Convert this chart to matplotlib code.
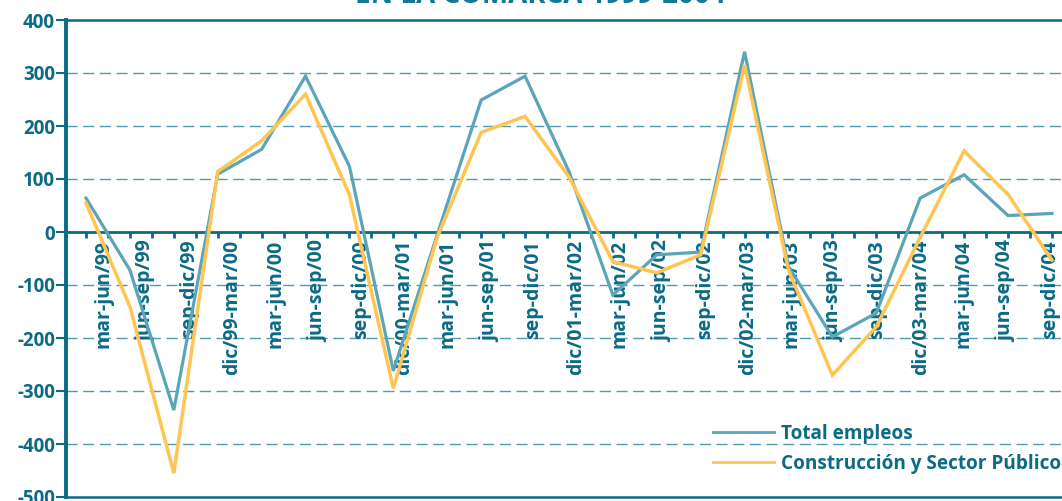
import matplotlib
matplotlib.use("Agg")
import matplotlib.pyplot as plt
from matplotlib.transforms import offset_copy
import numpy as np

periods = ["mar-jun/99", "jun-sep/99", "sep-dic/99", "dic/99-mar/00", "mar-jun/00",
           "jun-sep/00", "sep-dic/00", "dic/00-mar/01", "mar-jun/01", "jun-sep/01",
           "sep-dic/01", "dic/01-mar/02", "mar-jun/02", "jun-sep/02", "sep-dic/02",
           "dic/02-mar/03", "mar-jun/03", "jun-sep/03", "sep-dic/03", "dic/03-mar/04",
           "mar-jun/04", "jun-sep/04", "sep-dic/04"]
total_empleos = [64, -72, -336, 109, 156, 294, 124, -262, -5, 249, 294, 114, -119,
                 -43, -38, 340, -65, -198, -153, 64, 108, 31, 35]
construccion_sp = [55, -141, -455, 114, 172, 260, 70, -295, -10, 188, 218, 104, -56,
                   -77, -43, 315, -72, -270, -179, -10, 153, 71, -53]
yticks = [400, 300, 200, 100, 0, -100, -200, -300, -400, -500]
title = "EN LA COMARCA 1999-2004"

TEXT = "#0B6A86"
TEAL = "#5BA5B8"
YELLOW = "#FFC552"
GRID = "#4F9BB2"
FONT = "Open Sans"

W, H = 1062, 501
fig = plt.figure(figsize=(W / 100, H / 100), dpi=100)
ax = fig.add_axes([66 / W, 4 / H, (W - 66) / W, 477 / H])

x = np.arange(len(periods))
ax.plot(x, total_empleos, color=TEAL, lw=2.3, label="Total empleos", solid_joinstyle="miter", zorder=3)
ax.plot(x, construccion_sp, color=YELLOW, lw=2.5, label="Construcción y Sector Público",
        solid_joinstyle="miter", zorder=4)

ax.set_ylim(-500, 400)
ax.set_xlim(-0.456, 22.23)

for v in yticks:
    if v not in (400, 0, -500):
        ax.axhline(v, color=GRID, lw=1.0, ls=(0, (8, 4)), zorder=1)
ax.axhline(400, color=TEXT, lw=1.8, zorder=2, clip_on=False)
ax.axhline(-500, color=TEXT, lw=1.8, zorder=2, clip_on=False)

for s in ["top", "right"]:
    ax.spines[s].set_visible(False)
ax.spines["left"].set_color(TEXT)
ax.spines["left"].set_linewidth(2.8)
ax.spines["bottom"].set_position(("data", 0))
ax.spines["bottom"].set_color(TEXT)
ax.spines["bottom"].set_linewidth(2.0)
ax.spines["bottom"].set_zorder(2)

ax.set_yticks(yticks)
ax.set_yticklabels([str(v) for v in yticks], fontsize=13.5, fontweight="bold",
                   color=TEXT, family=FONT)
ax.tick_params(axis="y", direction="out", length=7, width=1.5, color=TEXT, pad=1)

ax.set_xticks(x)
ax.set_xticks(x[:-1] + 0.5, minor=True)
ax.set_xticklabels([])
ax.tick_params(axis="x", which="both", direction="out", length=4, width=2, color=TEXT)

trans = offset_copy(ax.transData, fig=fig, x=0, y=-8, units="dots")
for i, lab in enumerate(periods):
    ax.text(0.39 + i * 0.98, 0, lab, transform=trans, rotation=90, ha="center", va="top",
            fontsize=14, fontweight="bold", color=TEXT, family=FONT, zorder=2)

leg = ax.legend(loc="upper left", bbox_to_anchor=(713 / W, 1 - 424 / H),
                bbox_transform=fig.transFigure, frameon=False, borderpad=0,
                borderaxespad=0, handlelength=3.2, handletextpad=0.35, labelspacing=0.52,
                prop={"family": FONT, "weight": "bold", "size": 13.7})
for t in leg.get_texts():
    t.set_color(TEXT)
for l in leg.get_lines():
    l.set_linewidth(2.0)

fig.text(540 / W, 1 - 3 / H, title, ha="center", va="baseline", fontsize=20,
         fontweight="bold", color="#137895", family=FONT)

fig.savefig("out.png", dpi=100)
